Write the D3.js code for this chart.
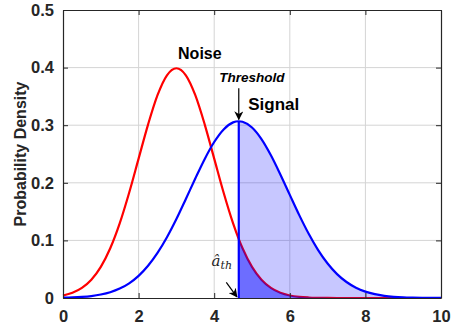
<!DOCTYPE html>
<html>
<head>
<meta charset="utf-8">
<script src="https://cdn.jsdelivr.net/npm/d3@7"></script>
<style>
	body { margin: 0; background: white; }
	text { font-family: 'Liberation Sans', Arial, sans-serif; }
</style>
</head>
<body>
<div id="container"></div>
<script>
// x grid (threshold point 4.65 included)
const xs = [0, 0.25, 0.5, 0.75, 1, 1.25, 1.5, 1.75, 2, 2.25, 2.5, 2.75, 3, 3.25, 3.5, 3.75, 4, 4.25, 4.5, 4.65, 4.75,
	5, 5.25, 5.5, 5.75, 6, 6.25, 6.5, 6.75, 7, 7.25, 7.5, 7.75, 8, 8.25, 8.5, 8.75, 9, 9.25, 9.5, 9.75, 10];
const noise = [0.0044, 0.0091, 0.0175, 0.0317, 0.0540, 0.0863, 0.1295, 0.1827, 0.2420, 0.3011, 0.3521, 0.3867, 0.3989,
	0.3867, 0.3521, 0.3011, 0.2420, 0.1827, 0.1295, 0.1023, 0.0863, 0.0540, 0.0317, 0.0175, 0.0091, 0.0044, 0.0020,
	0.0009, 0.0004, 0.0001, 0, 0, 0, 0, 0, 0, 0, 0, 0, 0, 0, 0];
const signal = [0.0005, 0.0010, 0.0019, 0.0034, 0.0060, 0.0100, 0.0163, 0.0255, 0.0384, 0.0559, 0.0782, 0.1055, 0.1371,
	0.1719, 0.2075, 0.2415, 0.2708, 0.2927, 0.3049, 0.3069, 0.3060, 0.2960, 0.2759, 0.2478, 0.2145, 0.1790, 0.1439,
	0.1115, 0.0832, 0.0599, 0.0415, 0.0278, 0.0179, 0.0111, 0.0066, 0.0038, 0.0021, 0.0011, 0.0006, 0.0003, 0.0001, 0.0001];
const threshold = 4.65;
const xTicks = [0, 2, 4, 6, 8, 10];
const yTicks = [0, 0.1, 0.2, 0.3, 0.4, 0.5];

const W = 453, H = 327;
const m = {left: 63, right: 12, top: 10, bottom: 29};

const svg = d3.select('#container').append('svg')
	.attr('width', W)
	.attr('height', H);

const x = d3.scaleLinear().domain([0, 10]).range([m.left, W - m.right]);
const y = d3.scaleLinear().domain([0, 0.5]).range([H - m.bottom, m.top]);

// grid
const g = svg.append('g');
g.selectAll('line.gx').data(xTicks.slice(1, -1)).join('line')
	.attr('x1', d => x(d)).attr('x2', d => x(d))
	.attr('y1', y(0)).attr('y2', y(0.5))
	.attr('stroke', '#d4d4d4').attr('stroke-width', 1);
g.selectAll('line.gy').data(yTicks.slice(1, -1)).join('line')
	.attr('y1', d => y(d)).attr('y2', d => y(d))
	.attr('x1', x(0)).attr('x2', x(10))
	.attr('stroke', '#d4d4d4').attr('stroke-width', 1);

const pts = (arr) => xs.map((v, i) => [v, arr[i]]);
const line = d3.line().x(d => x(d[0])).y(d => y(d[1])).curve(d3.curveMonotoneX);
const area = d3.area().x(d => x(d[0])).y0(y(0)).y1(d => y(d[1])).curve(d3.curveMonotoneX);

// noise curve
svg.append('path')
	.attr('d', line(pts(noise)))
	.attr('fill', 'none').attr('stroke', '#ff0000').attr('stroke-width', 2.2);

// detection area under signal
svg.append('path')
	.attr('d', area(pts(signal).filter(d => d[0] >= threshold)))
	.attr('fill', 'rgba(0,0,255,0.22)');
// false alarm area under noise
svg.append('path')
	.attr('d', area(pts(noise).filter(d => d[0] >= threshold)))
	.attr('fill', 'rgba(0,0,255,0.45)');

// threshold line
svg.append('line')
	.attr('x1', x(threshold)).attr('x2', x(threshold))
	.attr('y1', y(0)).attr('y2', y(signal[xs.indexOf(threshold)]))
	.attr('stroke', '#0000ff').attr('stroke-width', 2.2);

// signal curve
svg.append('path')
	.attr('d', line(pts(signal)))
	.attr('fill', 'none').attr('stroke', '#0000ff').attr('stroke-width', 2.2);

// axes
svg.append('g').attr('transform', `translate(0,${y(0)})`)
	.call(d3.axisBottom(x).tickValues(xTicks).tickSizeInner(-5).tickSizeOuter(0).tickPadding(12));
svg.append('g').attr('transform', `translate(${x(0)},0)`)
	.call(d3.axisLeft(y).tickValues(yTicks).tickFormat(d => d === 0 ? '0' : d3.format('.1f')(d))
		.tickSizeInner(-5).tickSizeOuter(0).tickPadding(9));
svg.append('g').attr('transform', `translate(0,${y(0.5)})`)
	.call(d3.axisTop(x).tickValues(xTicks).tickSizeInner(-5).tickSizeOuter(0).tickFormat(''));
svg.append('g').attr('transform', `translate(${x(10)},0)`)
	.call(d3.axisRight(y).tickValues(yTicks).tickSizeInner(-5).tickSizeOuter(0).tickFormat(''));
svg.selectAll('.domain').attr('stroke', '#262626').attr('stroke-width', 1.2);
svg.selectAll('.tick line').attr('stroke', '#262626');
svg.selectAll('.tick text')
	.attr('fill', '#262626')
	.style('font-size', '16.5px')
	.style('font-weight', 'bold')
	.style('font-family', "'Liberation Sans', Arial, sans-serif");

svg.append('text')
	.attr('transform', `translate(26,${(y(0) + y(0.5)) / 2}) rotate(-90)`)
	.attr('text-anchor', 'middle')
	.attr('fill', '#262626')
	.style('font-size', '16px')
	.style('font-weight', 'bold')
	.text('Probability Density');

// annotations
svg.append('defs').append('marker')
	.attr('id', 'ah').attr('viewBox', '0 0 10 10').attr('refX', 9).attr('refY', 5)
	.attr('markerWidth', 9).attr('markerHeight', 9).attr('orient', 'auto')
	.attr('markerUnits', 'userSpaceOnUse')
	.append('path').attr('d', 'M0,0 L10,5 L0,10 L3,5 Z').attr('fill', 'black');

svg.append('text')
	.attr('x', x(3.62)).attr('y', y(0.415))
	.attr('text-anchor', 'middle')
	.style('font-size', '16px').style('font-weight', 'bold')
	.text('Noise');
svg.append('text')
	.attr('x', x(5.0)).attr('y', y(0.375))
	.attr('text-anchor', 'middle')
	.style('font-size', '13.5px').style('font-weight', 'bold').style('font-style', 'italic')
	.text('Threshold');
svg.append('line')
	.attr('x1', x(threshold)).attr('x2', x(threshold))
	.attr('y1', y(0.364)).attr('y2', y(0.31))
	.attr('stroke', 'black').attr('stroke-width', 1.2)
	.attr('marker-end', 'url(#ah)');
svg.append('text')
	.attr('x', x(4.9)).attr('y', y(0.327))
	.style('font-size', '17px').style('font-weight', 'bold')
	.text('Signal');

const ath = svg.append('text')
	.attr('x', x(4.2)).attr('y', y(0.055))
	.attr('text-anchor', 'middle')
	.style('font-family', "'DejaVu Serif', 'Liberation Serif', serif")
	.style('font-style', 'italic')
	.style('font-size', '15px')
	.attr('fill', '#222');
ath.append('tspan').text('\u00e2');
ath.append('tspan').attr('dy', 3).style('font-size', '11px').text('th');
svg.append('line')
	.attr('x1', x(4.32)).attr('y1', y(0.027))
	.attr('x2', x(4.6)).attr('y2', y(0.002))
	.attr('stroke', 'black').attr('stroke-width', 1.2)
	.attr('marker-end', 'url(#ah)');
</script>
</body>
</html>
